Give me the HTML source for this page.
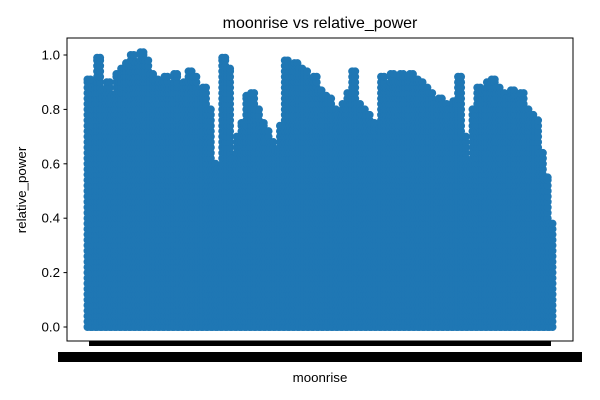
<!DOCTYPE html>
<html><head><meta charset="utf-8"><style>
body{margin:0;background:#fff;}
svg{display:block;font-family:"Liberation Sans","DejaVu Sans",sans-serif;}
</style></head><body>
<svg id="chart" width="600" height="400">
<rect x="0" y="0" width="600" height="400" fill="#fff"/>
<text x="320" y="28" font-size="16" text-anchor="middle">moonrise vs relative_power</text>
<g id="points"></g>
<rect x="67" y="38" width="506" height="303" fill="none" stroke="#000" stroke-width="1"/>
<g id="yaxis"></g>
<rect x="89" y="341" width="462" height="5" fill="#000"/>
<rect x="58" y="352" width="524" height="10" fill="#000"/>
<text x="320" y="382" font-size="13.3" text-anchor="middle">moonrise</text>
<text transform="translate(26,190) rotate(-90)" font-size="13.3" text-anchor="middle">relative_power</text>
</svg>
<script>
const columnTop = [0.91,0.88,0.99,0.87,0.90,0.85,
0.93,0.95,0.97,1.0,0.97,1.01,
0.98,0.93,0.91,0.90,0.92,0.88,
0.93,0.88,0.90,0.94,0.92,0.86,
0.88,0.80,0.60,0.58,0.99,0.95,
0.62,0.70,0.75,0.85,0.86,0.80,0.75,0.72,
0.68,0.65,0.74,0.98,0.96,
0.97,0.95,0.94,0.90,0.92,0.87,0.85,
0.84,0.80,0.78,0.82,0.86,0.94,
0.82,0.80,0.78,0.75,0.73,0.92,0.88,
0.93,0.90,0.93,0.92,0.93,0.91,0.90,
0.88,0.86,0.82,0.84,0.82,0.80,0.83,
0.92,0.70,0.60,0.80,0.88,
0.87,0.90,0.91,0.88,0.86,0.84,0.87,0.85,
0.86,0.80,0.78,0.76,0.64,0.55,0.38];
const columnIndex = columnTop.map((_, i) => i);
const yTicks = [0.0,0.2,0.4,0.6,0.8,1.0];
const yTickLabels = ["0.0","0.2","0.4","0.6","0.8","1.0"];
const NS="http://www.w3.org/2000/svg";
const nCols = columnIndex.length;
function xScale(i){return 89 + i*(462/(nCols-1));}
function yScale(v){return 327 - v*272;}
const pts=document.getElementById('points');
function dot(x,y){
  const c=document.createElementNS(NS,'circle');
  c.setAttribute('cx',x);c.setAttribute('cy',y);c.setAttribute('r',4);c.setAttribute('fill','#1f77b4');
  
  
  pts.appendChild(c);
}
for(let k=0;k<nCols;k++){
  const cx=xScale(columnIndex[k]);
  const top=columnTop[k];
  for(const dx of [-1.5,1.5]){
    for(let v=0; v<top; v+=0.02){ dot(cx+dx, yScale(v)); }
    dot(cx+dx, yScale(top));
  }
}
const ya=document.getElementById('yaxis');
yTicks.forEach((t,i)=>{
  const y=yScale(t);
  const l=document.createElementNS(NS,'line');
  l.setAttribute('x1',63.5);l.setAttribute('x2',67);l.setAttribute('y1',y);l.setAttribute('y2',y);l.setAttribute('stroke','#000');
  
  
  ya.appendChild(l);
  const tx=document.createElementNS(NS,'text');
  tx.setAttribute('x',60);tx.setAttribute('y',y+4.5);tx.setAttribute('font-size','13.3');tx.setAttribute('text-anchor','end');
  tx.textContent=yTickLabels[i];
  
  
  ya.appendChild(tx);
});
</script>
</body></html>
